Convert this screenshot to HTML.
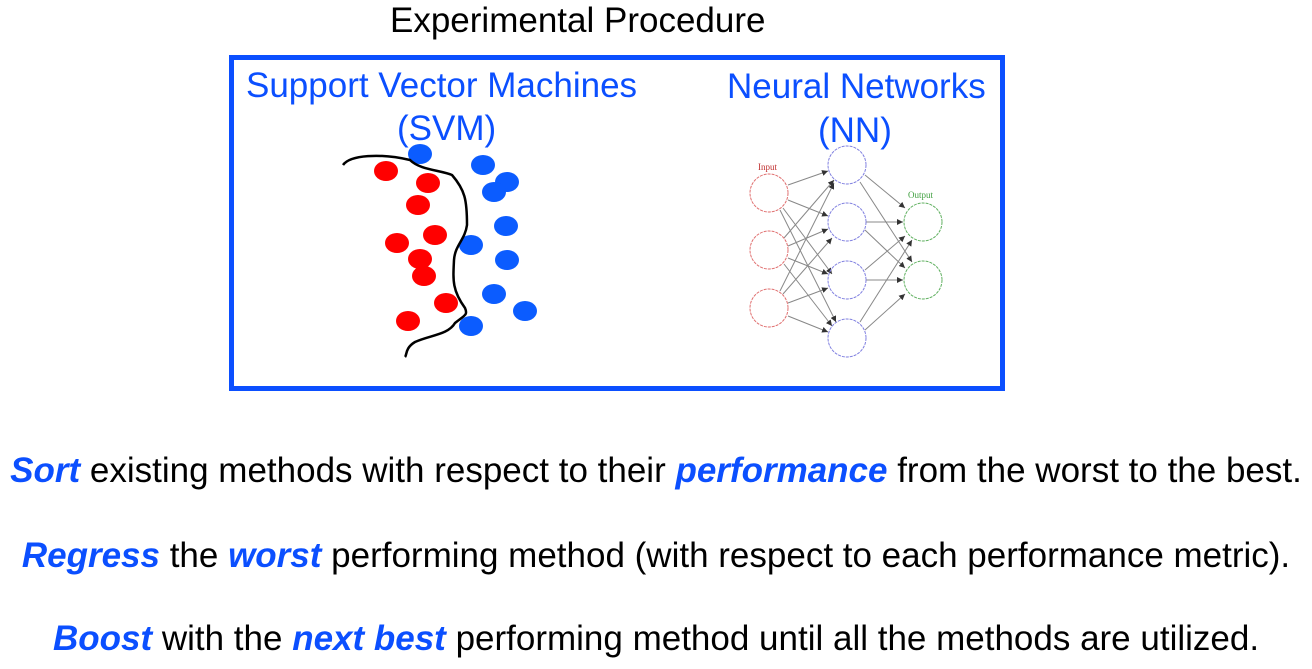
<!DOCTYPE html>
<html><head><style>
body{margin:0;width:1312px;height:669px;background:#fff;font-family:"Liberation Sans",Arial,sans-serif;position:relative;overflow:hidden}
.t{position:absolute;white-space:nowrap;font-size:35px;line-height:1}
.c{left:0;width:1312px;text-align:center}
b{color:#0b4fff;font-style:italic}
.bl{color:#0b4fff}
</style></head><body>
<div class="t" style="left:390px;top:3px;font-size:35px">Experimental Procedure</div>
<div style="position:absolute;left:229px;top:55px;width:766px;height:326px;border:5px solid #0b4fff"></div>
<div class="t bl" style="left:246px;top:68px">Support Vector Machines</div>
<div class="t bl" style="left:397px;top:111px">(SVM)</div>
<div class="t bl" style="left:727px;top:69px">Neural Networks</div>
<div class="t bl" style="left:818px;top:113px">(NN)</div>
<svg width="1312" height="669" style="position:absolute;left:0;top:0">
<g fill="#f00">
<ellipse cx="386" cy="171" rx="12" ry="10"/><ellipse cx="428" cy="183" rx="12" ry="10"/><ellipse cx="418" cy="205" rx="12" ry="10"/><ellipse cx="435" cy="235" rx="12" ry="10"/><ellipse cx="397" cy="243" rx="12" ry="10"/><ellipse cx="420" cy="259" rx="12" ry="10"/><ellipse cx="424" cy="276" rx="12" ry="10"/><ellipse cx="446" cy="303" rx="12" ry="10"/><ellipse cx="408" cy="321" rx="12" ry="10"/>
</g>
<g fill="#0b5cff">
<ellipse cx="420" cy="154" rx="12" ry="10"/><ellipse cx="483" cy="165" rx="12" ry="10"/><ellipse cx="507" cy="182" rx="12" ry="10"/><ellipse cx="494" cy="192" rx="12" ry="10"/><ellipse cx="506" cy="226" rx="12" ry="10"/><ellipse cx="471" cy="245" rx="12" ry="10"/><ellipse cx="507" cy="260" rx="12" ry="10"/><ellipse cx="494" cy="294" rx="12" ry="10"/><ellipse cx="525" cy="311" rx="12" ry="10"/><ellipse cx="471" cy="326" rx="12" ry="10"/>
</g>
<path d="M343 165 C350 155 380 153 410 160 C420 170 440 170 452 175 C465 190 467 200 467 225 C465 240 455 245 454 260 C453 280 452 290 465 308 C468 315 465 315 455 323 C448 335 430 335 415 342 C405 348 407 355 405 357" fill="none" stroke="#000" stroke-width="2.5"/>
<defs><marker id="a" markerWidth="6" markerHeight="6" refX="6" refY="3" orient="auto"><path d="M0,0 L6,3 L0,6z" fill="#333"/></marker></defs>
<g stroke="#888" stroke-width="1" marker-end="url(#a)">
<line x1="788" y1="185" x2="828" y2="171"/><line x1="788" y1="200" x2="828" y2="216"/><line x1="783" y1="208" x2="832" y2="274"/><line x1="780" y1="210" x2="836" y2="322"/>
<line x1="784" y1="238" x2="834" y2="180"/><line x1="788" y1="246" x2="828" y2="229"/><line x1="788" y1="258" x2="828" y2="274"/><line x1="784" y1="264" x2="832" y2="326"/>
<line x1="780" y1="291" x2="834" y2="183"/><line x1="783" y1="294" x2="832" y2="238"/><line x1="788" y1="303" x2="828" y2="288"/><line x1="788" y1="316" x2="828" y2="332"/>
<line x1="865" y1="175" x2="905" y2="208"/><line x1="860" y1="182" x2="912" y2="262"/><line x1="866" y1="222" x2="903" y2="222"/><line x1="865" y1="230" x2="905" y2="268"/>
<line x1="865" y1="270" x2="905" y2="236"/><line x1="866" y1="280" x2="903" y2="280"/><line x1="860" y1="322" x2="912" y2="240"/><line x1="865" y1="330" x2="905" y2="294"/>
</g>
<g fill="none" stroke-width="1" stroke-dasharray="3 1">
<g stroke="#e07070"><circle cx="769" cy="193" r="19"/><circle cx="769" cy="250" r="19"/><circle cx="769" cy="308" r="19"/></g>
<g stroke="#8080e0"><circle cx="847" cy="165" r="19"/><circle cx="847" cy="222" r="19"/><circle cx="847" cy="280" r="19"/><circle cx="847" cy="338" r="19"/></g>
<g stroke="#60b060"><circle cx="923" cy="222" r="19"/><circle cx="923" cy="280" r="19"/></g>
</g>
<text x="758" y="170" font-family="Liberation Serif" font-size="9" fill="#c03030">Input</text>
<text x="908" y="198" font-family="Liberation Serif" font-size="9" fill="#40a040">Output</text>
</svg>
<div class="t c" style="top:453px"><b>Sort</b> existing methods with respect to their <b>performance</b> from the worst to the best.</div>
<div class="t c" style="top:538px"><b>Regress</b> the <b>worst</b> performing method (with respect to each performance metric).</div>
<div class="t c" style="top:621px"><b>Boost</b> with the <b>next best</b> performing method until all the methods are utilized.</div>
</body></html>
